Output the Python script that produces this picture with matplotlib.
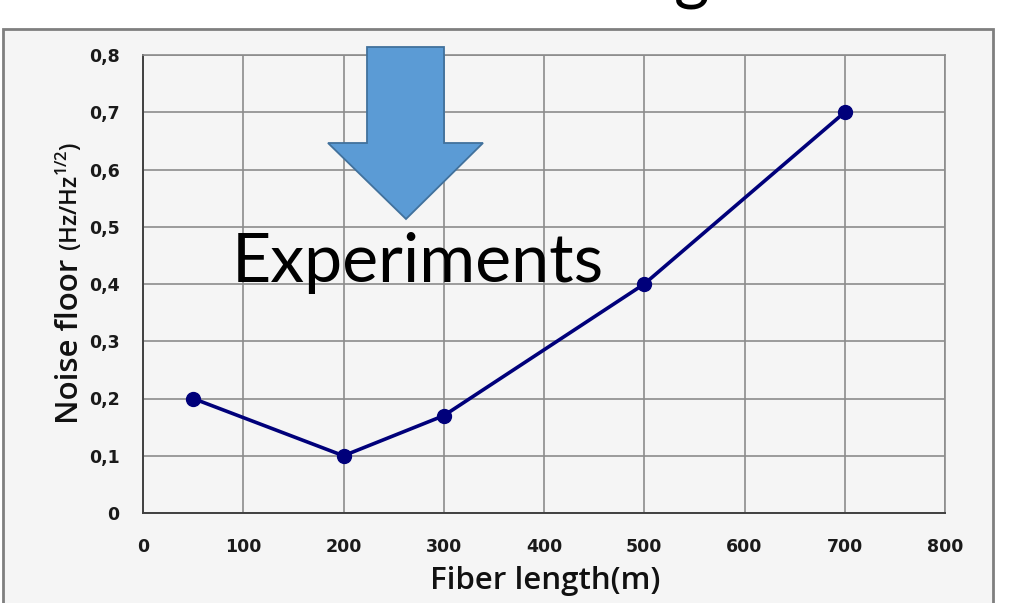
import matplotlib
matplotlib.use("Agg")
import matplotlib.pyplot as plt
from matplotlib.patches import Rectangle, Polygon

# ---- data ----
fiber_length = [50, 200, 300, 500, 700]
noise_floor = [0.2, 0.1, 0.17, 0.4, 0.7]
x_ticks = [0, 100, 200, 300, 400, 500, 600, 700, 800]
y_ticks = [0, 0.1, 0.2, 0.3, 0.4, 0.5, 0.6, 0.7, 0.8]
y_tick_labels = ["0", "0,1", "0,2", "0,3", "0,4", "0,5", "0,6", "0,7", "0,8"]

W, H = 1030, 603
plt.rcParams['mathtext.fontset'] = 'custom'
plt.rcParams['mathtext.rm'] = 'Open Sans'
fig = plt.figure(figsize=(W / 100, H / 100), dpi=100)
fig.patch.set_facecolor('white')

def fx(px):
    return px / W

def fy(py):
    return 1 - py / H

panel_col = '#f5f5f5'
# outer chart panel
fig.patches.append(Rectangle((fx(3), fy(640)), fx(990), (640 - 29) / H,
                             transform=fig.transFigure, facecolor=panel_col,
                             edgecolor='#7f7f7f', linewidth=2.0, zorder=-5))

ax = fig.add_axes([fx(143), fy(513), fx(945 - 143), (513 - 55) / H])
ax.set_zorder(1)
ax.set_facecolor(panel_col)
ax.plot(fiber_length, noise_floor, color='#00007a', linewidth=2.6,
        marker='o', markersize=10, zorder=3)
ax.set_xlim(0, 800)
ax.set_ylim(0, 0.8)
ax.set_xticks(x_ticks)
ax.set_yticks(y_ticks)
ax.set_yticklabels(y_tick_labels)
ax.tick_params(length=0, labelsize=12.5, colors='#1a1a1a')
ax.tick_params(axis='y', pad=17)
ax.tick_params(axis='x', pad=18)
for lab in ax.get_xticklabels() + ax.get_yticklabels():
    lab.set_fontweight('bold')
ax.grid(True, color='#8c8c8c', linewidth=1.2)
ax.set_axisbelow(True)
for s in ['top', 'right']:
    ax.spines[s].set_color('#8c8c8c')
    ax.spines[s].set_linewidth(1.2)
for s in ['left', 'bottom']:
    ax.spines[s].set_color('#404040')
    ax.spines[s].set_linewidth(1.4)

# axis labels
lab_font = dict(family='Open Sans', fontweight='semibold', color='#111111')
fig.text(fx(545), fy(589), "Fiber length(m)", ha='center', va='baseline',
         fontsize=22.5, zorder=6, **lab_font)
t1 = fig.text(fx(78), fy(424), "Noise floor ", rotation=90,
              rotation_mode='anchor', ha='left', va='baseline', fontsize=22.5,
              zorder=6, **lab_font)
fig.canvas.draw()
bb = t1.get_window_extent(fig.canvas.get_renderer())
top_px = H - bb.y1
fig.text(fx(78), fy(top_px), r"(Hz/Hz$^{\mathregular{1/2}}$)", rotation=90,
         rotation_mode='anchor', ha='left', va='baseline', fontsize=17,
         zorder=6, **lab_font)

# annotation arrow
arrow_px = [(367, 47), (444, 47), (444, 143), (483, 143), (406, 219),
            (328, 143), (367, 143)]
fig.patches.append(Polygon([(fx(x), fy(y)) for x, y in arrow_px], closed=True,
                           transform=fig.transFigure, facecolor='#5b9bd5',
                           edgecolor='#41719c', linewidth=1.3, zorder=5))

fig.text(fx(232), fy(282), "Experiments", ha='left', va='baseline',
         fontsize=49, family='Lato', color='black', zorder=6)

# cut-off title (only the descender of the last letter is visible)
fig.text(fx(692), fy(-3), "g", ha='center', va='baseline', fontsize=49,
         family='Lato', color='black', zorder=6)

fig.savefig("out.png", dpi=100, facecolor='white')
